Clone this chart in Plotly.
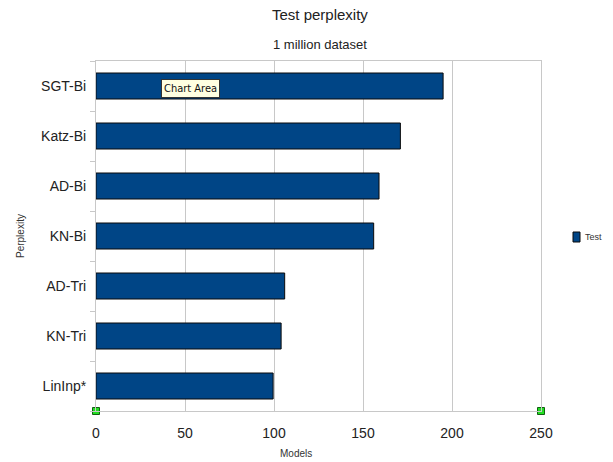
import plotly.graph_objects as go

models = ["SGT-Bi", "Katz-Bi", "AD-Bi", "KN-Bi", "AD-Tri", "KN-Tri", "LinInp*"]
test_perplexity = [195, 171, 159, 156, 106, 104, 99.5]
x_ticks = [0, 50, 100, 150, 200, 250]

FONT = "Liberation Sans"
BAR_BLUE = "#004586"
GRID = "#c8c8c8"

# pixel geometry of the page
W, H = 613, 462
M_L, M_R, M_T, M_B = 96, 72, 61, 51
W_PLOT = W - M_L - M_R
H_PLOT = H - M_T - M_B


def px_to_paper(px, py):
    return (px - M_L) / W_PLOT, (H - M_B - py) / H_PLOT


fig = go.Figure()
fig.add_trace(go.Bar(
    y=models, x=test_perplexity, orientation="h", name="Test",
    marker=dict(color=BAR_BLUE, line=dict(color="#0a0a0a", width=1)),
    width=0.52, showlegend=False,
))

# selection handles at the ends of the x axis
fig.add_trace(go.Scatter(
    x=[x_ticks[0], x_ticks[-1]], y=[-0.5, -0.5], yaxis="y2", mode="markers",
    marker=dict(symbol="square", size=7, color="#22dd22", line=dict(color="#106010", width=1)),
    showlegend=False, hoverinfo="skip", cliponaxis=False,
))

title_xy = px_to_paper(320, 15)
sub_xy = px_to_paper(320, 44)
tip_xy = px_to_paper(190, 88)
ytitle_xy = px_to_paper(20, 236)
xtitle_xy = px_to_paper(296, 453)
key_x0, key_y0 = px_to_paper(573, 232)
key_x1, key_y1 = px_to_paper(580, 242)
key_txt = px_to_paper(583, 237)

fig.update_layout(
    width=W, height=H,
    margin=dict(l=M_L, r=M_R, t=M_T, b=M_B, autoexpand=False),
    paper_bgcolor="white", plot_bgcolor="white",
    font=dict(family=FONT, color="#222"),
    showlegend=False,
    xaxis=dict(range=[0, 250], tickvals=x_ticks, showgrid=True, gridcolor=GRID,
               gridwidth=1, zeroline=False, showline=True, linecolor=GRID,
               mirror=True, ticks="", ticklabelstandoff=9,
               tickfont=dict(size=14, color="#222")),
    yaxis=dict(categoryorder="array", categoryarray=models[::-1],
               autorange=False, range=[-0.5, 6.5],
               showline=True, linecolor=GRID, mirror=True,
               ticks="outside", tickson="boundaries", ticklen=5, tickcolor=GRID,
               ticklabelstandoff=6,
               tickfont=dict(size=14, color="#222"), showgrid=False),
    yaxis2=dict(overlaying="y", range=[-0.5, 6.5], visible=False),
    shapes=[
        # legend key for the "Test" series
        dict(type="rect", xref="paper", yref="paper",
             x0=key_x0, x1=key_x1, y0=key_y1, y1=key_y0,
             fillcolor=BAR_BLUE, line=dict(color="#0a0a0a", width=1)),
    ],
    annotations=[
        dict(text="Test perplexity", x=title_xy[0], y=title_xy[1], xref="paper", yref="paper",
             xanchor="center", yanchor="middle",
             showarrow=False, font=dict(size=15, color="#222")),
        dict(text="1 million dataset", x=sub_xy[0], y=sub_xy[1], xref="paper", yref="paper",
             xanchor="center", yanchor="middle",
             showarrow=False, font=dict(size=13, color="#222")),
        dict(text="Perplexity", x=ytitle_xy[0], y=ytitle_xy[1], xref="paper", yref="paper",
             xanchor="center", yanchor="middle", textangle=-90,
             showarrow=False, font=dict(size=10, color="#333")),
        dict(text="Models", x=xtitle_xy[0], y=xtitle_xy[1], xref="paper", yref="paper",
             xanchor="center", yanchor="middle",
             showarrow=False, font=dict(size=10, color="#333")),
        dict(text="Test", x=key_txt[0], y=key_txt[1], xref="paper", yref="paper",
             xanchor="left", yanchor="middle",
             showarrow=False, font=dict(size=9, color="#333")),
        dict(text="Chart Area", x=tip_xy[0], y=tip_xy[1], xref="paper", yref="paper",
             xanchor="center", yanchor="middle",
             showarrow=False, font=dict(size=11, color="#111", family="DejaVu Sans Condensed"),
             bgcolor="#ffffe1", bordercolor="#333", borderwidth=1, borderpad=2),
    ],
)

fig.write_html("out.html")
